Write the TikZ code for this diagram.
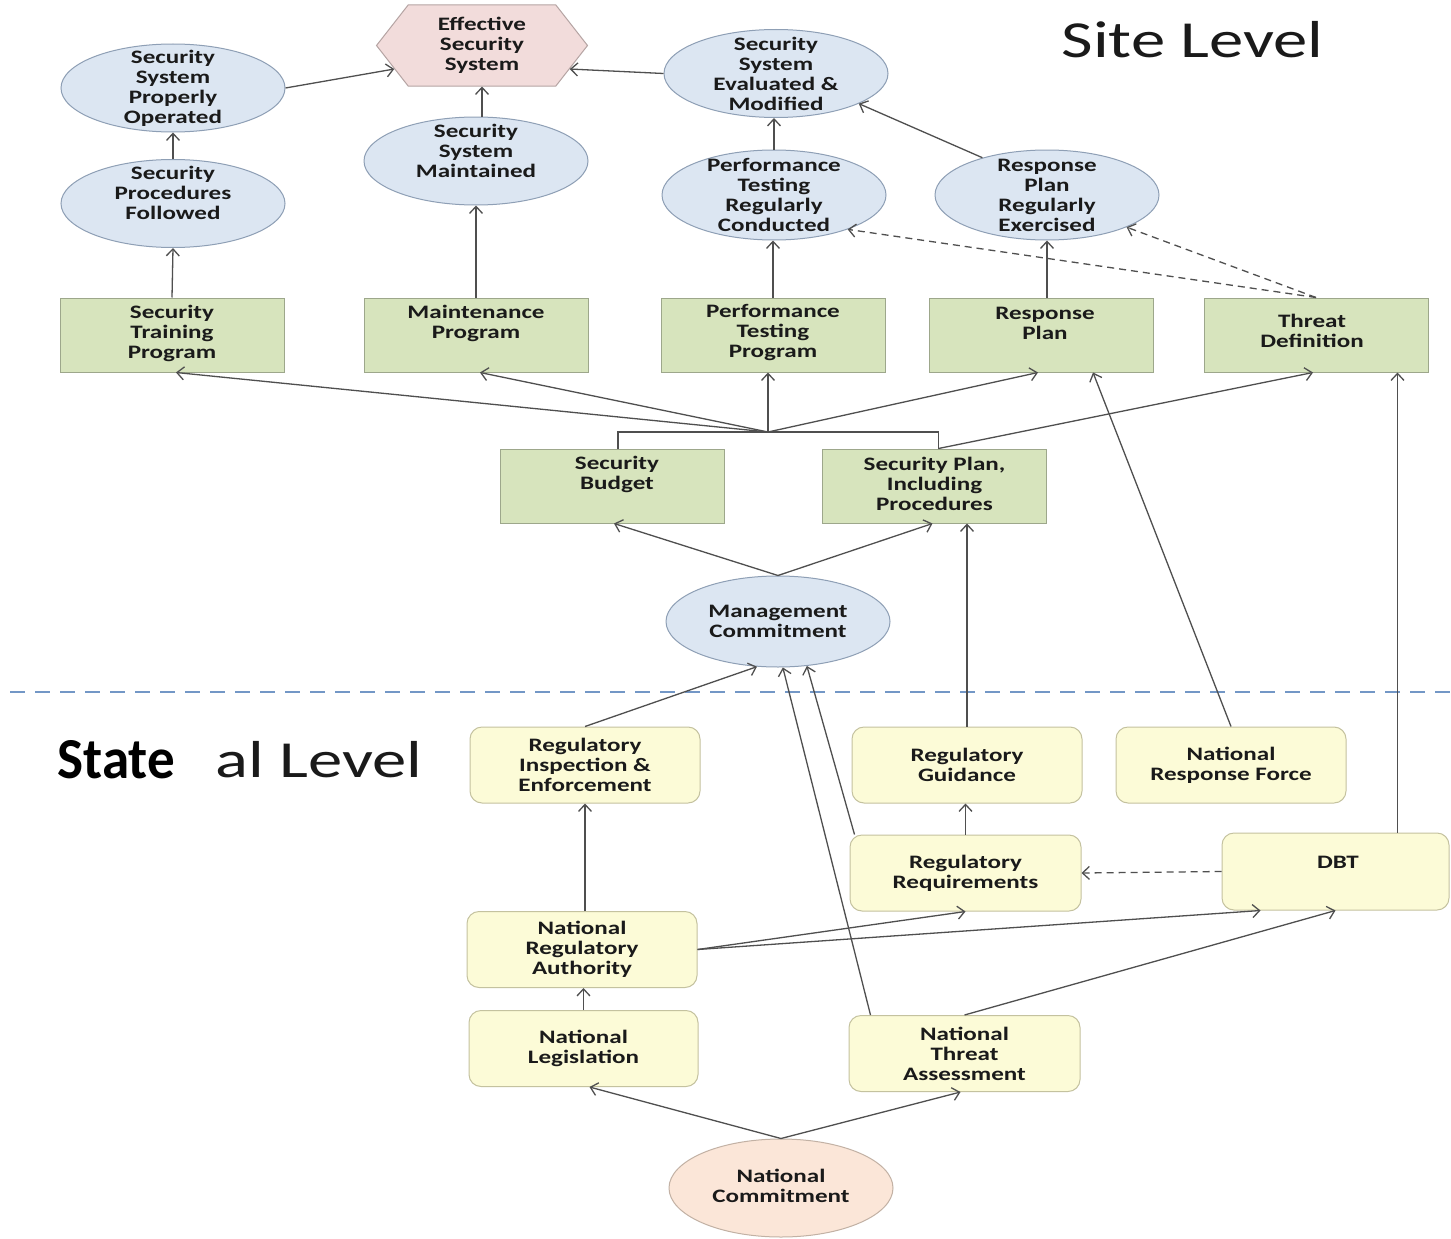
\documentclass[tikz,border=0pt]{standalone}
\usepackage{fontspec}
\usetikzlibrary{shapes.geometric,shapes.symbols,arrows.meta,calc}
\newfontfamily\boxfont{Carlito}[FakeStretch=1.32]
\newfontfamily\levelfont{Carlito}[FakeStretch=1.32]
\newfontfamily\statefont{Carlito}[FakeStretch=0.95]
\definecolor{ink}{HTML}{1A1A1A}
\definecolor{lineC}{HTML}{4F4F4F}
\definecolor{ellF}{HTML}{DCE6F2}
\definecolor{ellB}{HTML}{8E9FB5}
\definecolor{hexF}{HTML}{F2DCDB}
\definecolor{hexB}{HTML}{B5A4A3}
\definecolor{grnF}{HTML}{D7E4BD}
\definecolor{grnB}{HTML}{9DA78B}
\definecolor{ylwF}{HTML}{FCFBD7}
\definecolor{ylwB}{HTML}{C4C29F}
\definecolor{pchF}{HTML}{FBE6D8}
\definecolor{pchB}{HTML}{C2B1A4}
\definecolor{sepC}{HTML}{7397C6}
\begin{document}
\begin{tikzpicture}[x=1pt,y=-1pt,
  every node/.style={font=\boxfont\bfseries\fontsize{19}{20}\selectfont, text=ink},
  ell/.style={ellipse, draw=ellB, fill=ellF, line width=1pt, minimum width=224pt, minimum height=88pt, inner sep=0pt},
  hexa/.style={signal, signal to=east and west, signal pointer angle=104, draw=hexB, fill=hexF, line width=1pt, minimum width=211pt, minimum height=81pt, inner sep=0pt},
  gbox/.style={rectangle, draw=grnB, fill=grnF, line width=1pt, minimum width=224pt, minimum height=74pt, inner sep=0pt},
  ybox/.style={rectangle, rounded corners=12pt, draw=ylwB, fill=ylwF, line width=1pt, minimum width=230pt, minimum height=76pt, inner sep=0pt},
  txt/.style={align=center, inner sep=0pt},
  arr/.style={draw=lineC, line width=1.3pt, -{Straight Barb[length=7pt,width=13pt]}},
  darr/.style={arr, dash pattern=on 7pt off 5pt},
  ln/.style={draw=lineC, line width=1.3pt},
  level/.style={anchor=base west, text=ink, font=\levelfont\fontsize{52}{60}\selectfont}]

\fill[white] (0,0) rectangle (1451,1239);
\useasboundingbox (0,0) rectangle (1451,1239);

% ---------- site level: outcomes ----------
\node[hexa] (ess) at (482,45.5) {};
\node[txt] (ess-t) at (ess) {Effective\\Security\\System};
\node[ell] (sspo) at (173,88) {};
\node[txt] (sspo-t) at (sspo) {Security\\System\\Properly\\Operated};
\node[ell] (ssem) at (776,73.5) {};
\node[txt] (ssem-t) at (ssem) {Security\\System\\Evaluated \&\\Modified};
\node[ell] (ssm) at (476,161) {};
\node[txt] (ssm-t) at (476,151) {Security\\System\\Maintained};
\node[ell] (spf) at (173,203.5) {};
\node[txt] (spf-t) at (173,193) {Security\\Procedures\\Followed};
\node[ell, minimum height=90pt] (ptrc) at (774,195) {};
\node[txt] (ptrc-t) at (ptrc) {Performance\\Testing\\Regularly\\Conducted};
\node[ell, minimum height=90pt] (rpre) at (1047,195) {};
\node[txt] (rpre-t) at (rpre) {Response\\Plan\\Regularly\\Exercised};

% ---------- site level: programmes ----------
\node[gbox] (stp) at (172,335) {};
\node[txt] (stp-t) at (172,333) {Security\\Training\\Program};
\node[gbox] (mp) at (476,335) {};
\node[txt] (mp-t) at (476,323) {Maintenance\\Program};
\node[gbox] (ptp) at (773,335) {};
\node[txt] (ptp-t) at (773,333) {Performance\\Testing\\Program};
\node[gbox] (rp) at (1041,335) {};
\node[txt] (rp-t) at (1045,323) {Response\\Plan};
\node[gbox] (td) at (1316,335) {};
\node[txt] (td-t) at (1312,331) {Threat\\Definition};
\node[gbox] (sb) at (612,486) {};
\node[txt] (sb-t) at (617,474) {Security\\Budget};
\node[gbox] (sp) at (934.5,486) {};
\node[txt] (sp-t) at (934.5,484) {Security Plan,\\Including\\Procedures};
\node[ell, minimum height=91pt] (mc) at (778,621.5) {};
\node[txt] (mc-t) at (mc) {Management\\Commitment};

% ---------- separator and level titles ----------
\coordinate (sepL) at (10,692);
\coordinate (sepR) at (1451,692);
\draw[sepC, line width=2pt, dash pattern=on 15pt off 10pt] (sepL) -- (sepR);
\node[level] (site) at (1058,58) {Site Level};
\node[anchor=base west, text=black, font=\statefont\bfseries\fontsize{58}{64}\selectfont] (state) at (54,778) {State};
\node[level] (natl) at (212,777) {al Level};

% ---------- state level ----------
\node[ybox] (rie) at (585,765) {};
\node[txt] (rie-t) at (rie) {Regulatory\\Inspection \&\\Enforcement};
\node[ybox] (rg) at (967,765) {};
\node[txt] (rg-t) at (rg) {Regulatory\\Guidance};
\node[ybox] (nrf) at (1231,765) {};
\node[txt] (nrf-t) at (nrf) {National\\Response Force};
\node[ybox, minimum width=231pt] (rr) at (965.5,873) {};
\node[txt] (rr-t) at (rr) {Regulatory\\Requirements};
\node[ybox, minimum width=227pt, minimum height=77pt] (dbt) at (1335.5,871.5) {};
\node[txt] (dbt-t) at (1338,862) {DBT};
\node[ybox] (nra) at (582,949.5) {};
\node[txt] (nra-t) at (nra) {National\\Regulatory\\Authority};
\node[ybox, minimum width=229pt] (nl) at (583.5,1048.5) {};
\node[txt] (nl-t) at (nl) {National\\Legislation};
\node[ybox, minimum width=231pt] (nta) at (964.5,1053.5) {};
\node[txt] (nta-t) at (nta) {National\\Threat\\Assessment};
\node[ellipse, draw=pchB, fill=pchF, line width=1pt, minimum width=224pt, minimum height=98pt, inner sep=0pt] (nc) at (781,1188) {};
\node[txt] (nc-t) at (781,1186) {National\\Commitment};

% ---------- connectors: outcomes ----------
\draw[arr] (sspo.east) -- (ess.195);
\draw[arr] (ssem.west) -- (ess.-15);
\draw[arr] (ssm.north -| ess.south) -- (ess.south);
\draw[arr] (spf.north) -- (sspo.south);
\draw[arr] (stp.north) -- (spf.south);
\draw[arr] (mp.north) -- (ssm.south);
\draw[arr] (ptrc.north) -- (ptrc.north |- ssem.south);
\draw[arr] (rpre.150) -- (ssem.-20);
\draw[arr] (ptp.north) -- (ptp.north |- ptrc.south);
\draw[arr] (rpre.south |- rp.north) -- (rpre.south);
\draw[darr] (td.north) -- (ptrc.-25);
\draw[darr] (td.north) -- (rpre.-22);

% ---------- connectors: budget and plan feed the programmes ----------
\coordinate (jn) at (768,432);
\draw[ln] ([xshift=6pt]sb.north) |- (jn) -| ([xshift=4pt]sp.north);
\draw[arr] (jn) -- ([xshift=4pt]stp.south);
\draw[arr] (jn) -- ([xshift=4pt]mp.south);
\draw[arr] (jn) -- (jn |- ptp.south);
\draw[arr] (jn) -- ([xshift=-3pt]rp.south);
\draw[arr] ([xshift=4pt]sp.north) -- ([xshift=-3pt]td.south);
\draw[arr] (mc.north) -- ([xshift=2pt]sb.south);
\draw[arr] (mc.north) -- ([xshift=-2pt]sp.south);

% ---------- connectors: state level into site level ----------
\draw[arr] (rg.north) -- (rg.north |- sp.south);
\draw[arr] (nrf.north) -- ([xshift=52pt]rp.south);
\draw[arr] ([xshift=62pt]dbt.north) -- ([xshift=62pt]dbt.north |- td.south);
\draw[arr] (rie.north) -- (mc.-115);
\draw[arr] ([xshift=-94pt]nta.north) -- (mc.-84);
\draw[arr] ([xshift=5pt]rr.north west) -- (mc.-57);

% ---------- connectors: state level ----------
\draw[arr] (rie.south |- nra.north) -- (rie.south);
\draw[arr] (nl.north) -- (nl.north |- nra.south);
\draw[arr] (nra.east) -- (rr.south);
\draw[arr] (nra.east) -- ([xshift=-75pt]dbt.south);
\draw[arr] (nta.north) -- (dbt.south);
\draw[darr] (dbt.west) -- (rr.east);
\draw[arr] (rr.north) -- (rr.north |- rg.south);
\draw[arr] (nc.north) -- ([xshift=6pt]nl.south);
\draw[arr] (nc.north) -- ([xshift=-4pt]nta.south);
\end{tikzpicture}
\end{document}
